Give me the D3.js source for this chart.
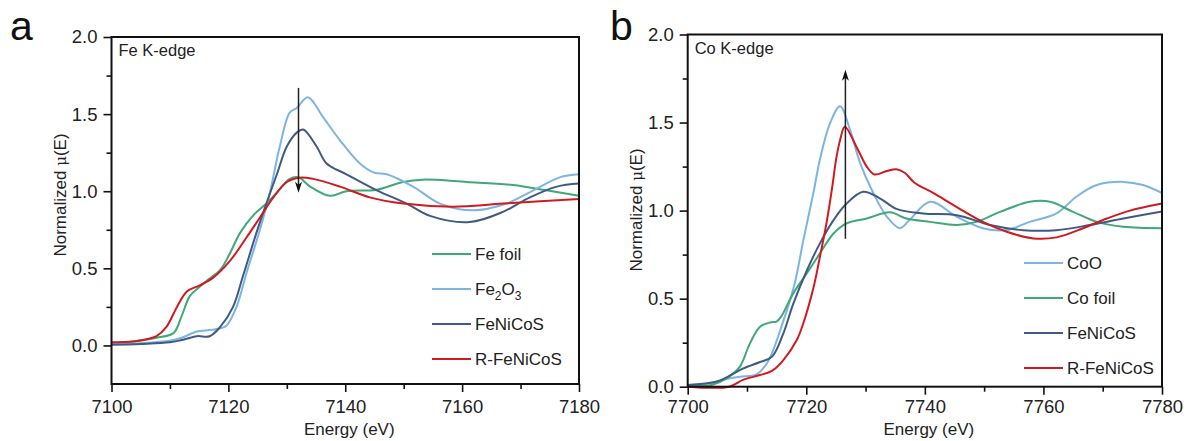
<!DOCTYPE html>
<html>
<head>
<meta charset="utf-8">
<script src="https://cdn.jsdelivr.net/npm/d3@7"></script>
<style>
  body { margin: 0; background: #fff; }
  svg { display: block; font-family: "Liberation Sans", Arial, sans-serif; }
</style>
</head>
<body>
<div id="chart"></div>
<script>
// ---- data: [energy (eV), normalized mu(E)] ----
const feFoil = [[7100,0.015],[7103.7,0.026],[7107.7,0.05],[7110.6,0.08],[7112,0.19],[7113.4,0.32],[7115.1,0.38],[7116.3,0.42],[7118.6,0.49],[7120.3,0.60],[7122,0.73],[7124.3,0.845],[7126.5,0.92],[7128.5,1.0],[7130.5,1.08],[7132,1.09],[7134,1.03],[7137.4,0.97],[7140.2,1.0],[7145.4,1.01],[7149.9,1.06],[7153.3,1.075],[7160.8,1.06],[7168.7,1.04],[7174.4,1.006],[7180,0.97]];
const fe2o3 = [[7100,0.01],[7105,0.015],[7110,0.03],[7112,0.05],[7114.6,0.09],[7116.8,0.10],[7118.5,0.11],[7119.7,0.13],[7121.4,0.25],[7123.1,0.47],[7125.4,0.75],[7127.1,0.99],[7128.8,1.29],[7130.5,1.51],[7131.7,1.54],[7133.6,1.61],[7136.2,1.48],[7139.1,1.33],[7142.5,1.18],[7145,1.12],[7147.1,1.11],[7151.6,1.03],[7156.2,0.92],[7161.9,0.876],[7167.6,0.92],[7172.2,1.006],[7176.7,1.09],[7180,1.11]];
const feNiCoS_Fe = [[7100,0.005],[7105,0.01],[7110,0.02],[7112,0.035],[7114.6,0.06],[7116.8,0.06],[7118.6,0.12],[7120.8,0.25],[7122.5,0.45],[7124.8,0.73],[7126.5,0.92],[7128.3,1.11],[7130,1.29],[7131.7,1.38],[7132.8,1.40],[7135.1,1.29],[7136.8,1.18],[7140.2,1.11],[7145.4,1.006],[7150.5,0.92],[7154.5,0.84],[7161.3,0.80],[7167,0.866],[7171.6,0.96],[7176.2,1.03],[7180,1.05]];
const rFeNiCoS_Fe = [[7100,0.02],[7103.7,0.026],[7106,0.04],[7107.7,0.06],[7109.4,0.12],[7111.2,0.25],[7112.9,0.35],[7115.1,0.39],[7117.4,0.44],[7120.3,0.55],[7123.1,0.70],[7125.4,0.83],[7127.7,0.96],[7130,1.06],[7132.2,1.088],[7134.5,1.08],[7139.1,1.03],[7144.2,0.96],[7149.9,0.92],[7158.5,0.90],[7167,0.92],[7180,0.95]];

const coO = [[7700,0.01],[7704,0.02],[7706.6,0.045],[7708.8,0.057],[7711.6,0.07],[7713.5,0.14],[7716,0.36],[7718,0.58],[7719.5,0.83],[7721.2,1.10],[7722.3,1.29],[7724,1.495],[7725.7,1.593],[7727.4,1.457],[7729.1,1.268],[7731.3,1.10],[7733.6,0.965],[7735.8,0.90],[7737.5,0.95],[7740.9,1.05],[7745.4,0.965],[7749.8,0.90],[7753.8,0.89],[7757.7,0.936],[7762.2,0.984],[7765.6,1.08],[7769,1.145],[7773.5,1.163],[7776.8,1.145],[7780,1.10]];
const coFoil = [[7700,0.005],[7704,0.01],[7707,0.057],[7708.8,0.114],[7710.5,0.246],[7712.2,0.34],[7713.9,0.365],[7715,0.37],[7715.8,0.40],[7717.8,0.53],[7720.1,0.644],[7722.3,0.757],[7724.6,0.87],[7726.8,0.927],[7730.2,0.955],[7734.1,0.99],[7736.9,0.955],[7740.9,0.936],[7745.4,0.918],[7748.7,0.936],[7752.7,0.993],[7757.7,1.05],[7761.1,1.05],[7765,0.993],[7769,0.936],[7773.5,0.908],[7780,0.90]];
const feNiCoS_Co = [[7700,0.01],[7704.9,0.03],[7707.5,0.07],[7709.4,0.104],[7712.2,0.14],[7714.2,0.17],[7716.1,0.30],[7717.8,0.47],[7720.1,0.66],[7722.3,0.814],[7724.6,0.946],[7726.8,1.04],[7729.6,1.107],[7732.4,1.07],[7735.2,1.01],[7739.7,0.984],[7745.4,0.974],[7751,0.918],[7756.6,0.889],[7762.2,0.889],[7767.8,0.918],[7773.5,0.955],[7780,0.995]];
const rFeNiCoS_Co = [[7700,0],[7707,0],[7709.4,0.04],[7712.2,0.066],[7714.2,0.09],[7716.1,0.15],[7718.4,0.265],[7719.5,0.36],[7721.2,0.56],[7722.3,0.738],[7723.4,0.927],[7724.3,1.116],[7725.1,1.305],[7725.7,1.40],[7726.5,1.476],[7728.5,1.36],[7730.2,1.25],[7731.5,1.205],[7733.6,1.225],[7735.2,1.235],[7736.6,1.215],[7738.2,1.16],[7741.4,1.10],[7745.4,1.02],[7749.8,0.936],[7753.8,0.88],[7758.3,0.842],[7762.2,0.848],[7766.7,0.90],[7770.7,0.955],[7774.6,1.00],[7780,1.04]];

// ticks
const xTicksFe = [7100, 7120, 7140, 7160, 7180];
const xTicksCo = [7700, 7720, 7740, 7760, 7780];
const yTicks = [0, 0.5, 1.0, 1.5, 2.0];

// legend order per panel
const legendFe = ["Fe foil", "Fe2O3", "FeNiCoS", "R-FeNiCoS"];
const legendCo = ["CoO", "Co foil", "FeNiCoS", "R-FeNiCoS"];

const colors = {
    green: "#3fa877",
    lightblue: "#7cb5e2",
    navy: "#3f5b84",
    red: "#d01a1f"
};

const W = 1189, H = 441;
const svg = d3.select("#chart").append("svg")
    .attr("width", W)
    .attr("height", H);

function drawPanel(p) {
    const x = d3.scaleLinear().domain(p.xDomain).range([p.left, p.right]);
    const y = d3.scaleLinear().domain(p.yDomain).range([p.bottom, p.top]);
    const g = svg.append("g");

    // curves
    const line = d3.line()
        .x(d => x(d[0]))
        .y(d => y(d[1]))
        .curve(d3.curveCatmullRom.alpha(0.5));
    p.series.forEach(s => {
        g.append("path")
            .datum(s.data)
            .attr("fill", "none")
            .attr("stroke", s.color)
            .attr("stroke-width", 2)
            .attr("stroke-linejoin", "round")
            .attr("d", line);
    });

    // arrow
    const ax = x(p.arrow.x);
    const y0 = y(p.arrow.from), y1 = y(p.arrow.to);
    const dir = y1 > y0 ? 1 : -1;
    g.append("line")
        .attr("x1", ax).attr("x2", ax)
        .attr("y1", y0).attr("y2", y1 - dir * 4)
        .attr("stroke", "#222")
        .attr("stroke-width", 1.5);
    g.append("path")
        .attr("d", `M${ax},${y1} L${ax - 3.5},${y1 - dir * 11} L${ax},${y1 - dir * 8} L${ax + 3.5},${y1 - dir * 11} Z`)
        .attr("fill", "#111");

    // frame (top/right)
    g.append("rect")
        .attr("x", p.left).attr("y", p.top)
        .attr("width", p.right - p.left).attr("height", p.bottom - p.top)
        .attr("fill", "none")
        .attr("stroke", "#111")
        .attr("stroke-width", 2);

    // minor ticks
    const xMinor = d3.range(p.xDomain[0] + 10, p.xDomain[1], 20);
    const yMinor = d3.range(0.25, 2, 0.5);
    g.append("g")
        .attr("transform", `translate(0,${p.bottom})`)
        .call(d3.axisBottom(x).tickValues(xMinor).tickSize(5).tickSizeOuter(0).tickFormat(""))
        .call(a => a.select(".domain").remove());
    g.append("g")
        .attr("transform", `translate(${p.left},0)`)
        .call(d3.axisLeft(y).tickValues(yMinor).tickSize(5).tickSizeOuter(0).tickFormat(""))
        .call(a => a.select(".domain").remove());

    // major axes
    const xa = g.append("g")
        .attr("transform", `translate(0,${p.bottom})`)
        .call(d3.axisBottom(x).tickValues(p.xTicks).tickSize(8).tickSizeOuter(0).tickPadding(p.xPad).tickFormat(d3.format("d")));
    const ya = g.append("g")
        .attr("transform", `translate(${p.left},0)`)
        .call(d3.axisLeft(y).tickValues(yTicks).tickSize(8).tickSizeOuter(0).tickPadding(6).tickFormat(d3.format(".1f")));
    [xa, ya].forEach(a => {
        a.select(".domain").remove();
        a.selectAll("text").attr("font-size", 18.5).attr("fill", "#222")
            .attr("font-family", "Liberation Sans, Arial, sans-serif");
    });
    g.selectAll(".tick line").attr("stroke", "#111").attr("stroke-width", 1.6);

    // axis titles
    g.append("text")
        .attr("x", (p.left + p.right) / 2 + 4)
        .attr("y", 435)
        .attr("text-anchor", "middle")
        .attr("font-size", 17)
        .attr("fill", "#222")
        .text("Energy (eV)");
    const yt = g.append("text")
        .attr("transform", `translate(${p.yTitleX},${p.yTitleY}) rotate(-90)`)
        .attr("text-anchor", "middle")
        .attr("font-size", 17)
        .attr("fill", "#222");
    yt.append("tspan").text("Normalized ");
    yt.append("tspan").attr("font-family", "DejaVu Serif, serif").attr("font-size", 15).text("\u03bc");
    yt.append("tspan").text("(E)");

    // edge label and panel letter
    g.append("text")
        .attr("x", p.left + 7).attr("y", p.top + 19)
        .attr("font-size", 16.5)
        .attr("fill", "#222")
        .text(p.edge);
    g.append("text")
        .attr("x", p.letterX).attr("y", 40)
        .attr("font-size", 41)
        .attr("fill", "#111")
        .text(p.letter);

    // legend
    p.series.forEach((s, i) => {
        const ly = p.legend.y + i * 35;
        g.append("line")
            .attr("x1", p.legend.x).attr("x2", p.legend.x + 39)
            .attr("y1", ly).attr("y2", ly)
            .attr("stroke", s.color)
            .attr("stroke-width", 2);
        const t = g.append("text")
            .attr("x", p.legend.x + 43).attr("y", ly + 6)
            .attr("font-size", 17)
            .attr("fill", "#222");
        if (s.name === "Fe2O3") {
            t.append("tspan").text("Fe");
            t.append("tspan").attr("font-size", 12).attr("dy", 5).text("2");
            t.append("tspan").attr("dy", -5).text("O");
            t.append("tspan").attr("font-size", 12).attr("dy", 5).text("3");
        } else {
            t.text(s.name);
        }
    });
}

drawPanel({
    letter: "a", letterX: 10, edge: "Fe K-edge",
    left: 111.5, right: 579, top: 37, bottom: 384,
    xDomain: [7100, 7180], yDomain: [-0.25, 2.0],
    xTicks: xTicksFe, xPad: 8,
    yTitleX: 66, yTitleY: 195,
    arrow: { x: 7132, from: 1.67, to: 0.99 },
    legend: { x: 432, y: 254 },
    series: [
        { name: legendFe[0], data: feFoil, color: colors.green },
        { name: legendFe[1], data: fe2o3, color: colors.lightblue },
        { name: legendFe[2], data: feNiCoS_Fe, color: colors.navy },
        { name: legendFe[3], data: rFeNiCoS_Fe, color: colors.red }
    ]
});

drawPanel({
    letter: "b", letterX: 610, edge: "Co K-edge",
    left: 687.7, right: 1162, top: 34.5, bottom: 386.7,
    xDomain: [7700, 7780], yDomain: [0, 2.0],
    xTicks: xTicksCo, xPad: 5,
    yTitleX: 642, yTitleY: 210,
    arrow: { x: 7726.6, from: 0.84, to: 1.8 },
    legend: { x: 1024, y: 263 },
    series: [
        { name: legendCo[0], data: coO, color: colors.lightblue },
        { name: legendCo[1], data: coFoil, color: colors.green },
        { name: legendCo[2], data: feNiCoS_Co, color: colors.navy },
        { name: legendCo[3], data: rFeNiCoS_Co, color: colors.red }
    ]
});
</script>
</body>
</html>
